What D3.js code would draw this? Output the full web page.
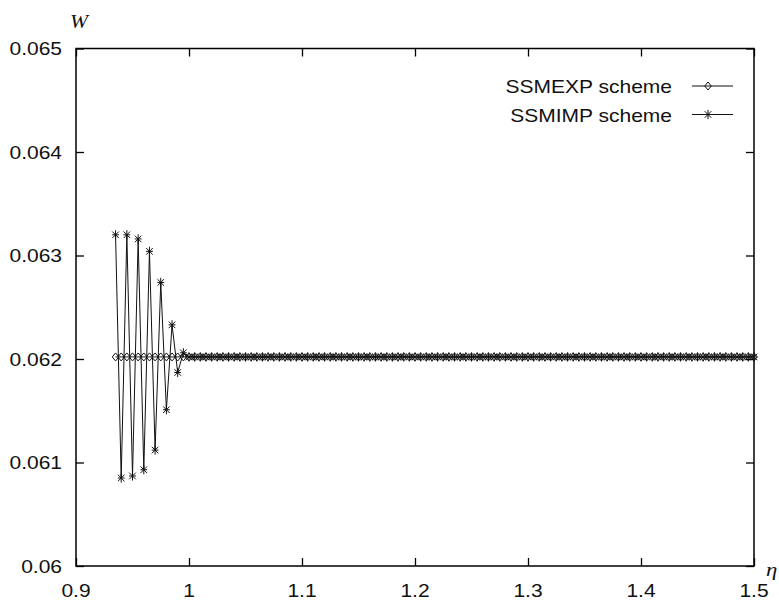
<!DOCTYPE html>
<html>
  <head>
    <meta charset="utf-8">
    <script src="https://unpkg.com/d3@7/dist/d3.min.js"></script>
    <style>
      body {
        margin: 0;
        background: #ffffff;
      }

      .label {
        font-family: "Liberation Sans", Arial, sans-serif;
        font-size: 17.5px;
        fill: #111;
      }

      .var {
        font-family: "Liberation Serif", "DejaVu Serif", serif;
        font-style: italic;
        fill: #111;
      }

      .frame {
        fill: none;
        stroke: #000;
        stroke-width: 1.5px;
      }

      .series {
        fill: none;
        stroke: #111;
        stroke-width: 1px;
      }

      .marker {
        fill: none;
        stroke: #111;
        stroke-width: 1px;
      }
    </style>
  </head>
  <body>
    <script>
      const eta = [
        0.935, 0.94, 0.945, 0.95, 0.955, 0.96, 0.965, 0.97, 0.975, 0.98, 0.985, 0.99, 0.995,
        1.000, 1.005, 1.010, 1.015, 1.020, 1.025, 1.030, 1.035, 1.040, 1.045,
        1.050, 1.055, 1.060, 1.065, 1.070, 1.075, 1.080, 1.085, 1.090, 1.095,
        1.100, 1.105, 1.110, 1.115, 1.120, 1.125, 1.130, 1.135, 1.140, 1.145,
        1.150, 1.155, 1.160, 1.165, 1.170, 1.175, 1.180, 1.185, 1.190, 1.195,
        1.200, 1.205, 1.210, 1.215, 1.220, 1.225, 1.230, 1.235, 1.240, 1.245,
        1.250, 1.255, 1.260, 1.265, 1.270, 1.275, 1.280, 1.285, 1.290, 1.295,
        1.300, 1.305, 1.310, 1.315, 1.320, 1.325, 1.330, 1.335, 1.340, 1.345,
        1.350, 1.355, 1.360, 1.365, 1.370, 1.375, 1.380, 1.385, 1.390, 1.395,
        1.400, 1.405, 1.410, 1.415, 1.420, 1.425, 1.430, 1.435, 1.440, 1.445,
        1.450, 1.455, 1.460, 1.465, 1.470, 1.475, 1.480, 1.485, 1.490, 1.495,
        1.500
      ];

      // explicit scheme: flat from the start
      const ssmexp = [
        0.06202, 0.06202, 0.06202, 0.06202, 0.06202, 0.06202, 0.06202, 0.06202, 0.06202, 0.06202, 0.06202, 0.06202, 0.06202,
        0.06202, 0.06202, 0.06202, 0.06202, 0.06202, 0.06202, 0.06202, 0.06202, 0.06202, 0.06202,
        0.06202, 0.06202, 0.06202, 0.06202, 0.06202, 0.06202, 0.06202, 0.06202, 0.06202, 0.06202,
        0.06202, 0.06202, 0.06202, 0.06202, 0.06202, 0.06202, 0.06202, 0.06202, 0.06202, 0.06202,
        0.06202, 0.06202, 0.06202, 0.06202, 0.06202, 0.06202, 0.06202, 0.06202, 0.06202, 0.06202,
        0.06202, 0.06202, 0.06202, 0.06202, 0.06202, 0.06202, 0.06202, 0.06202, 0.06202, 0.06202,
        0.06202, 0.06202, 0.06202, 0.06202, 0.06202, 0.06202, 0.06202, 0.06202, 0.06202, 0.06202,
        0.06202, 0.06202, 0.06202, 0.06202, 0.06202, 0.06202, 0.06202, 0.06202, 0.06202, 0.06202,
        0.06202, 0.06202, 0.06202, 0.06202, 0.06202, 0.06202, 0.06202, 0.06202, 0.06202, 0.06202,
        0.06202, 0.06202, 0.06202, 0.06202, 0.06202, 0.06202, 0.06202, 0.06202, 0.06202, 0.06202,
        0.06202, 0.06202, 0.06202, 0.06202, 0.06202, 0.06202, 0.06202, 0.06202, 0.06202, 0.06202,
        0.06202
      ];

      // implicit scheme: oscillates before settling
      const ssmimp = [
        0.06320, 0.06085, 0.06320, 0.06087, 0.06316, 0.06093, 0.06304, 0.06112, 0.06274, 0.06151, 0.06233, 0.06187, 0.06206,
        0.06202, 0.06202, 0.06202, 0.06202, 0.06202, 0.06202, 0.06202, 0.06202, 0.06202, 0.06202,
        0.06202, 0.06202, 0.06202, 0.06202, 0.06202, 0.06202, 0.06202, 0.06202, 0.06202, 0.06202,
        0.06202, 0.06202, 0.06202, 0.06202, 0.06202, 0.06202, 0.06202, 0.06202, 0.06202, 0.06202,
        0.06202, 0.06202, 0.06202, 0.06202, 0.06202, 0.06202, 0.06202, 0.06202, 0.06202, 0.06202,
        0.06202, 0.06202, 0.06202, 0.06202, 0.06202, 0.06202, 0.06202, 0.06202, 0.06202, 0.06202,
        0.06202, 0.06202, 0.06202, 0.06202, 0.06202, 0.06202, 0.06202, 0.06202, 0.06202, 0.06202,
        0.06202, 0.06202, 0.06202, 0.06202, 0.06202, 0.06202, 0.06202, 0.06202, 0.06202, 0.06202,
        0.06202, 0.06202, 0.06202, 0.06202, 0.06202, 0.06202, 0.06202, 0.06202, 0.06202, 0.06202,
        0.06202, 0.06202, 0.06202, 0.06202, 0.06202, 0.06202, 0.06202, 0.06202, 0.06202, 0.06202,
        0.06202, 0.06202, 0.06202, 0.06202, 0.06202, 0.06202, 0.06202, 0.06202, 0.06202, 0.06202,
        0.06202
      ];

      const seriesNames = ['SSMEXP scheme', 'SSMIMP scheme'];

      const xTicks = [0.9, 1.0, 1.1, 1.2, 1.3, 1.4, 1.5];
      const xTickLabels = ['0.9', '1', '1.1', '1.2', '1.3', '1.4', '1.5'];
      const yTicks = [0.060, 0.061, 0.062, 0.063, 0.064, 0.065];
      const yTickLabels = ['0.06', '0.061', '0.062', '0.063', '0.064', '0.065'];

      const width = 779;
      const height = 601;
      const plotLeft = 76;
      const plotRight = 754;
      const plotTop = 48.5;
      const plotBottom = 566;
      const stretch = 1.2; // text in the original is a bit wide
      const tickLen = 8;

      const x = d3.scaleLinear().domain([0.9, 1.5]).range([plotLeft, plotRight]);
      const y = d3.scaleLinear().domain([0.060, 0.065]).range([plotBottom, plotTop]);

      const svg = d3.select('body')
        .append('svg')
        .attr('width', width)
        .attr('height', height);

      const place = (px, py) => `translate(${px},${py}) scale(${stretch},1)`;

      // ticks on all four sides, pointing inwards
      const axes = [
        [d3.axisBottom(x).tickValues(xTicks), `translate(0,${plotBottom})`],
        [d3.axisTop(x).tickValues(xTicks), `translate(0,${plotTop})`],
        [d3.axisLeft(y).tickValues(yTicks), `translate(${plotLeft},0)`],
        [d3.axisRight(y).tickValues(yTicks), `translate(${plotRight},0)`]
      ];
      axes.forEach(([axis, tr]) => {
        const g = svg.append('g')
          .attr('transform', tr)
          .call(axis.tickSize(-tickLen).tickFormat(''));
        g.select('.domain').remove();
        g.selectAll('line').attr('stroke', '#000').attr('stroke-width', 1.3);
      });

      svg.append('rect')
        .classed('frame', true)
        .attr('x', x(0.9))
        .attr('y', y(0.065))
        .attr('width', x(1.5) - x(0.9))
        .attr('height', y(0.060) - y(0.065));

      svg.selectAll(null).data(xTicks)
        .enter()
        .append('text')
        .classed('label', true)
        .attr('text-anchor', 'middle')
        .attr('transform', d => place(x(d), plotBottom + 31))
        .text((d, i) => xTickLabels[i]);

      svg.selectAll(null).data(yTicks)
        .enter()
        .append('text')
        .classed('label', true)
        .attr('text-anchor', 'end')
        .attr('transform', d => place(62, y(d) + 6.5))
        .text((d, i) => yTickLabels[i]);

      svg.append('text')
        .classed('var', true)
        .attr('font-size', 18)
        .attr('text-anchor', 'middle')
        .attr('transform', place(79, 28))
        .text('W');

      svg.append('text')
        .classed('var', true)
        .attr('font-size', 19)
        .attr('transform', place(766, 576))
        .text('η');

      // marker shapes
      const diamond = 'M0,-4L3.3,0L0,4L-3.3,0Z';
      const star = 'M0,-4.6V4.6M-3.3,-3.3L3.3,3.3M-3.3,3.3L3.3,-3.3M-3.4,0H3.4';

      const line = d3.line()
        .x(d => x(d[0]))
        .y(d => y(d[1]));

      const expData = eta.map((e, i) => [e, ssmexp[i]]);
      const impData = eta.map((e, i) => [e, ssmimp[i]]);

      svg.append('path')
        .datum(expData)
        .classed('series', true)
        .attr('d', line);

      svg.selectAll(null).data(expData)
        .enter()
        .append('path')
        .classed('marker', true)
        .attr('transform', d => `translate(${x(d[0])},${y(d[1])})`)
        .attr('d', diamond);

      svg.append('path')
        .datum(impData)
        .classed('series', true)
        .attr('d', line);

      svg.selectAll(null).data(impData)
        .enter()
        .append('path')
        .classed('marker', true)
        .attr('transform', d => `translate(${x(d[0])},${y(d[1])})`)
        .attr('d', star);

      // legend
      const legendRows = [
        {name: seriesNames[0], shape: diamond, ly: 86},
        {name: seriesNames[1], shape: star, ly: 114.5}
      ];
      const legend = svg.selectAll(null).data(legendRows)
        .enter()
        .append('g');

      legend.append('text')
        .classed('label', true)
        .attr('text-anchor', 'end')
        .attr('transform', d => place(672, d.ly + 7))
        .text(d => d.name);

      legend.append('line')
        .classed('series', true)
        .attr('x1', 692)
        .attr('x2', 733)
        .attr('y1', d => d.ly)
        .attr('y2', d => d.ly);

      legend.append('path')
        .classed('marker', true)
        .attr('transform', d => `translate(708,${d.ly})`)
        .attr('d', d => d.shape);
    </script>
  </body>
</html>
